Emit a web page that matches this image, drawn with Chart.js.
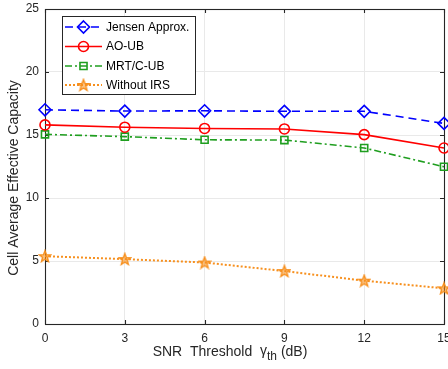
<!DOCTYPE html>
<html>
<head>
<meta charset="utf-8">
<script src="https://cdn.jsdelivr.net/npm/chart.js@4"></script>
<style>
  html, body { margin: 0; padding: 0; background: #fff; }
  #wrap { width: 448px; height: 369px; position: relative; }
</style>
</head>
<body>
<div id="wrap"><canvas id="c" width="448" height="369"></canvas></div>
<script>
// SNR threshold (dB) and per-scheme cell average effective capacity
const snrDb = [0, 3, 6, 9, 12, 15];
const jensenApprox = [17.0, 16.9, 16.92, 16.88, 16.88, 15.92];
const aoUb = [15.8, 15.62, 15.52, 15.48, 15.03, 13.97];
const mrtCUb = [15.05, 14.87, 14.62, 14.6, 13.97, 12.48];
const withoutIrs = [5.38, 5.15, 4.88, 4.2, 3.44, 2.83];

const seriesNames = ['Jensen Approx.', 'AO-UB', 'MRT/C-UB', 'Without IRS'];
const xTicks = [0, 3, 6, 9, 12, 15];
const yTicks = [0, 5, 10, 15, 20, 25];

const FONT = '"Liberation Sans", Arial, Helvetica, sans-serif';
const AXIS_COLOR = '#262626';
const BLUE = '#0000ff', RED = '#ff0000', GREEN = '#1f9e1f', ORANGE = '#f7901e';

// five-pointed star marker
function makeStar(size, color) {
  const cv = document.createElement('canvas');
  cv.width = size; cv.height = size;
  const g = cv.getContext('2d');
  const cx = size / 2, cy = size / 2 + 0.5, ro = size / 2 - 1, ri = ro * 0.42;
  g.beginPath();
  for (let i = 0; i < 10; i++) {
    const r = i % 2 === 0 ? ro : ri;
    const a = -Math.PI / 2 + i * Math.PI / 5;
    const px = cx + r * Math.cos(a), py = cy + r * Math.sin(a);
    if (i === 0) g.moveTo(px, py); else g.lineTo(px, py);
  }
  g.closePath();
  g.fillStyle = 'rgba(247,144,30,0.55)';
  g.fill();
  g.strokeStyle = color;
  g.lineWidth = 1.4;
  g.stroke();
  return cv;
}
const starImg = makeStar(14, ORANGE);

function series(label, data, color, dash, pointStyle, radius) {
  return {
    label, data: data.map((v, i) => ({ x: snrDb[i], y: v })),
    borderColor: color, borderWidth: 1.6, borderDash: dash,
    pointStyle, pointRadius: radius, pointHoverRadius: radius,
    pointBorderColor: color, pointBackgroundColor: 'rgba(0,0,0,0)',
    pointBorderWidth: 1.6, tension: 0, fill: false, clip: false
  };
}

const datasets = [
  series(seriesNames[0], jensenApprox, BLUE, [8, 5], 'rectRot', 6),
  series(seriesNames[1], aoUb, RED, [], 'circle', 5),
  series(seriesNames[2], mrtCUb, GREEN, [7, 3, 2, 3], 'rect', 5),
  series(seriesNames[3], withoutIrs, ORANGE, [2, 2], starImg, 7)
];
datasets[3].borderWidth = 2;

function drawMarker(ctx, style, x, y, r, color) {
  ctx.save();
  ctx.setLineDash([]);
  ctx.strokeStyle = color;
  ctx.lineWidth = 1.6;
  ctx.beginPath();
  if (style === 'rectRot') {
    ctx.moveTo(x, y - r); ctx.lineTo(x + r, y); ctx.lineTo(x, y + r); ctx.lineTo(x - r, y); ctx.closePath();
    ctx.stroke();
  } else if (style === 'circle') {
    ctx.arc(x, y, r, 0, Math.PI * 2); ctx.stroke();
  } else if (style === 'rect') {
    const s = r * Math.SQRT1_2;
    ctx.rect(x - s, y - s, 2 * s, 2 * s); ctx.stroke();
  } else {
    ctx.drawImage(style, x - style.width / 2, y - style.height / 2);
  }
  ctx.restore();
}

// no extra room around the plot for overhanging tick labels
function fixScale(s, key, size) {
  s[key] = size;
  s.paddingLeft = 0; s.paddingRight = 0; s.paddingTop = 0; s.paddingBottom = 0;
}

const framePlugin = {
  id: 'frame',
  beforeDatasetsDraw(chart) {
    const { ctx, chartArea: a, scales } = chart;
    ctx.save();
    ctx.strokeStyle = AXIS_COLOR;
    ctx.lineWidth = 1.1;
    ctx.strokeRect(Math.round(a.left) + 0.5, Math.round(a.top) + 0.5,
                   Math.round(a.right - a.left), Math.round(a.bottom - a.top));
    ctx.beginPath();
    const tl = 4;
    xTicks.forEach(t => {
      const px = Math.round(scales.x.getPixelForValue(t)) + 0.5;
      ctx.moveTo(px, a.bottom); ctx.lineTo(px, a.bottom - tl);
      ctx.moveTo(px, a.top); ctx.lineTo(px, a.top + tl);
    });
    yTicks.forEach(t => {
      const py = Math.round(scales.y.getPixelForValue(t)) + 0.5;
      ctx.moveTo(a.left, py); ctx.lineTo(a.left + tl, py);
      ctx.moveTo(a.right, py); ctx.lineTo(a.right - tl, py);
    });
    ctx.stroke();

    // axis titles
    ctx.fillStyle = AXIS_COLOR;
    ctx.textBaseline = 'alphabetic';
    const partA = 'SNR  Threshold  ', gam = '\u03b3', sub = 'th', partB = ' (dB)';
    const mainFont = '14px ' + FONT, subFont = '12px ' + FONT;
    ctx.font = mainFont;
    const wA = ctx.measureText(partA).width, wG = ctx.measureText(gam).width, wB = ctx.measureText(partB).width;
    ctx.font = subFont;
    const wS = ctx.measureText(sub).width;
    const total = wA + wG + wS + wB;
    let x0 = 230 - total / 2;
    const base = 356;
    ctx.font = mainFont;
    ctx.textAlign = 'left';
    ctx.fillText(partA, x0, base); x0 += wA;
    ctx.fillText(gam, x0, base - 1); x0 += wG;
    ctx.font = subFont;
    ctx.fillText(sub, x0, base + 4); x0 += wS;
    ctx.font = mainFont;
    ctx.fillText(partB, x0, base);

    ctx.save();
    ctx.translate(18, 178);
    ctx.rotate(-Math.PI / 2);
    ctx.textAlign = 'center';
    ctx.fillText('Cell Average Effective Capacity', 0, 0);
    ctx.restore();
    ctx.restore();
  },
  afterDraw(chart) {
    const { ctx } = chart;
    ctx.save();
    const bx = 62, by = 16, bw = 133, bh = 78;
    ctx.fillStyle = '#fff';
    ctx.fillRect(bx, by, bw, bh);
    ctx.strokeStyle = AXIS_COLOR;
    ctx.lineWidth = 1;
    ctx.strokeRect(bx + 0.5, by + 0.5, bw, bh);
    const rows = [27, 46.5, 66, 85];
    chart.data.datasets.forEach((ds, i) => {
      const y = rows[i];
      ctx.save();
      ctx.strokeStyle = ds.borderColor;
      ctx.lineWidth = ds.borderWidth;
      ctx.setLineDash(ds.borderDash);
      ctx.beginPath();
      ctx.moveTo(65, y); ctx.lineTo(102, y);
      ctx.stroke();
      ctx.restore();
      drawMarker(ctx, ds.pointStyle, 83.5, y, ds.pointRadius, ds.borderColor);
      ctx.fillStyle = '#000';
      ctx.font = '12px ' + FONT;
      ctx.textBaseline = 'middle';
      ctx.textAlign = 'left';
      ctx.fillText(ds.label, 106, y + 0.5);
    });
    ctx.restore();
  }
};

new Chart(document.getElementById('c'), {
  type: 'line',
  data: { datasets },
  options: {
    responsive: false,
    animation: false,
    devicePixelRatio: 1,
    layout: { autoPadding: false, padding: { top: 9, right: 4, left: 0, bottom: 0 } },
    plugins: { legend: { display: false }, tooltip: { enabled: false } },
    scales: {
      x: {
        type: 'linear', min: 0, max: 15,
        afterBuildTicks: s => { s.ticks = xTicks.map(v => ({ value: v })); },
        afterFit: s => fixScale(s, 'height', 45),
        grid: { color: '#e9e9e9', drawTicks: false, lineWidth: 1 },
        border: { display: false },
        ticks: { color: AXIS_COLOR, font: { family: FONT, size: 12 }, padding: 7, maxRotation: 0 }
      },
      y: {
        type: 'linear', min: 0, max: 25,
        afterBuildTicks: s => { s.ticks = yTicks.map(v => ({ value: v })); },
        afterFit: s => fixScale(s, 'width', 45),
        grid: { color: '#e9e9e9', drawTicks: false, lineWidth: 1 },
        border: { display: false },
        ticks: { color: AXIS_COLOR, font: { family: FONT, size: 12 }, padding: 6 }
      }
    }
  },
  plugins: [framePlugin]
});
</script>
</body>
</html>
